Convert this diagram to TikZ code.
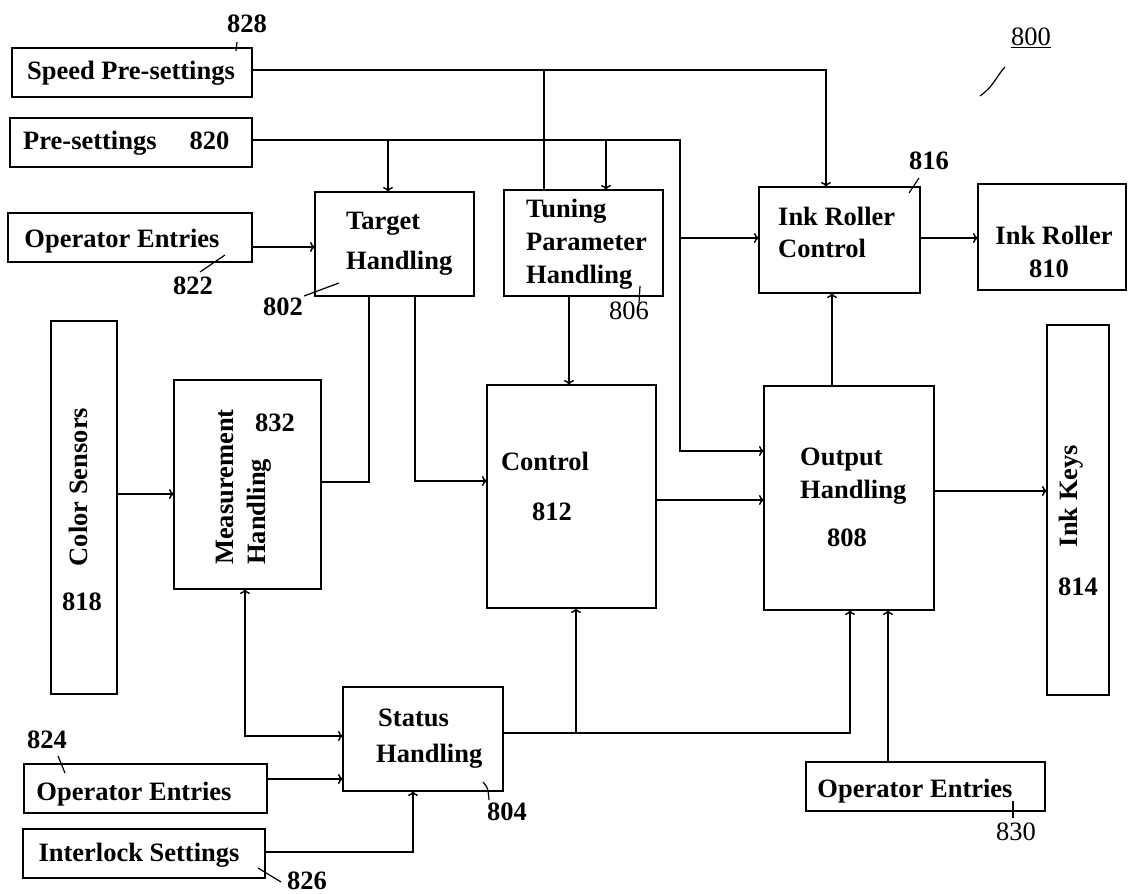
\documentclass[tikz,border=0pt]{standalone}
\usepackage{fontspec}
\setmainfont{Liberation Serif}
\usetikzlibrary{arrows.meta}
\tikzset{
  box/.style={draw=black, line width=1.5pt, inner sep=0pt, outer sep=0pt},
  txtz/.style={inner sep=0pt, anchor=mid, font=\fontsize{26.5}{30}\selectfont\bfseries},
  txt/.style={txtz, yshift=-5pt},
  rtxt/.style={inner sep=0pt, anchor=mid, yshift=-5pt, font=\fontsize{26.5}{30}\selectfont},
  wire/.style={line width=1.5pt},
  arr/.style={wire, -{To[length=5pt,width=10pt]}},
  barr/.style={wire, {To[length=5pt,width=10pt]}-{To[length=5pt,width=10pt]}},
  lead/.style={line width=1.2pt},
}
\begin{document}
\begin{tikzpicture}[x=1pt,y=-1pt]
\useasboundingbox (0,0) rectangle (1128,894);
\fill[white] (0,0) rectangle (1128,894);

% boxes
\node[box, minimum width=240pt, minimum height=49pt] (spd) at (132,72.5) {};
\node[box, minimum width=242pt, minimum height=49pt] (pre) at (131,142.5) {};
\node[box, minimum width=244pt, minimum height=49pt] (op1) at (130,237.5) {};
\node[box, minimum width=159pt, minimum height=104pt] (tgt) at (394.5,244) {};
\node[box, minimum width=159pt, minimum height=106pt] (tun) at (583.5,243) {};
\node[box, minimum width=161pt, minimum height=106pt] (irc) at (839.5,240) {};
\node[box, minimum width=148pt, minimum height=106pt] (ir) at (1052,237) {};
\node[box, minimum width=66pt, minimum height=373pt] (cs) at (84,507.5) {};
\node[box, minimum width=147pt, minimum height=209pt] (meas) at (247.5,484.5) {};
\node[box, minimum width=169pt, minimum height=223pt] (ctl) at (571.5,496.5) {};
\node[box, minimum width=170pt, minimum height=224pt] (out) at (849,498) {};
\node[box, minimum width=62pt, minimum height=370pt] (ik) at (1078,510) {};
\node[box, minimum width=160pt, minimum height=104pt] (stat) at (423,739) {};
\node[box, minimum width=243pt, minimum height=49pt] (op2) at (145.5,788.5) {};
\node[box, minimum width=242pt, minimum height=49pt] (ilk) at (144,853.5) {};
\node[box, minimum width=239pt, minimum height=49pt] (op3) at (925.5,786.5) {};

% texts
\node[txt] (tspd) at (131,72) {Speed Pre-settings};
\node[txt, anchor=mid west] (tpre) at (23,142) {Pre-settings\hspace{33pt}820};
\node[txt] (top1) at (122,240) {Operator Entries};
\node[txt, anchor=mid west] (ttgt1) at (346,222) {Target};
\node[txt, anchor=mid west] (ttgt2) at (346,262) {Handling};
\node[txt, anchor=mid west] (ttun1) at (526,210) {Tuning};
\node[txt, anchor=mid west] (ttun2) at (526,243) {Parameter};
\node[txt, anchor=mid west] (ttun3) at (526,276) {Handling};
\node[txt, anchor=mid west] (tirc1) at (778,218) {Ink Roller};
\node[txt, anchor=mid west] (tirc2) at (778,250) {Control};
\node[txt] (tir1) at (1054,237) {Ink Roller};
\node[txt] (tir2) at (1049,270) {810};
\node[txtz, rotate=90] (tcs) at (85,487) {Color Sensors};
\node[txt] (t818) at (82,603) {818};
\node[txtz, rotate=90, anchor=mid west] (tmeas1) at (231,565) {Measurement};
\node[txtz, rotate=90, anchor=mid west] (tmeas2) at (263,565) {Handling};
\node[txt] (t832) at (275,424) {832};
\node[txt] (tctl) at (545,463) {Control};
\node[txt] (t812) at (552,513) {812};
\node[txt, anchor=mid west] (tout1) at (800,458) {Output};
\node[txt, anchor=mid west] (tout2) at (800,491) {Handling};
\node[txt] (t808) at (847,539) {808};
\node[txtz, rotate=90] (tik) at (1075,496) {Ink Keys};
\node[txt] (t814) at (1078,588) {814};
\node[txt, anchor=mid west] (tst1) at (378,719) {Status};
\node[txt, anchor=mid west] (tst2) at (376,755) {Handling};
\node[txt] (top2) at (134,793) {Operator Entries};
\node[txt] (tilk) at (139,854) {Interlock Settings};
\node[txt] (top3) at (915,790) {Operator Entries};

% reference numerals
\node[txt] (l828) at (247,25) {828};
\node[txt] (l822) at (193,287) {822};
\node[txt] (l802) at (283,308) {802};
\node[rtxt] (l806) at (629,312) {806};
\node[txt] (l816) at (929,162) {816};
\node[rtxt] (l800) at (1031,38) {\underline{800}};
\node[txt] (l824) at (47,741) {824};
\node[txt] (l804) at (507,813) {804};
\node[txt] (l826) at (307,882) {826};
\node[rtxt] (l830) at (1016,833) {830};

% leaders
\draw[lead] (237,42) -- (236,51);
\draw[lead] (225,255) -- (200,272);
\draw[lead] (339,283) -- (304,296);
\draw[lead] (640,286) -- (639,303);
\draw[lead] (919,178) -- (909,193);
\draw[lead] (1005,67) .. controls (995,78) and (994,86) .. (980,96);
\draw[lead] (58,756) -- (65,773);
\draw[lead] (483,782) .. controls (488,788) .. (489,800);
\draw[lead] (258,868) -- (281,882);
\draw[lead] (1013,801) -- (1013,818);

% junction coordinates
\coordinate (jspd) at (544,70);
\coordinate (jpre1) at (388,140);
\coordinate (jpre2) at (606,140);
\coordinate (jpre3) at (680,238);
\coordinate (jpreD) at (680,451);
\coordinate (jst) at (576,733);

% connectors
\draw[arr] (spd.east |- 0,70) -| (irc.north -| 826,0);
\draw[wire] (tun.north -| jspd) -- (jspd);
\draw[arr] (pre.east |- 0,140) -| (jpreD) -- (out.west |- jpreD);
\draw[arr] (jpre1) -- (tgt.north -| jpre1);
\draw[arr] (jpre2) -- (tun.north -| jpre2);
\draw[arr] (jpre3) -- (irc.west |- jpre3);
\draw[arr] (op1.east |- 0,247) -- (tgt.west |- 0,247);
\draw[arr] (tun.south -| 569,0) -- (ctl.north -| 569,0);
\draw[arr] (tgt.south -| 415,0) |- (ctl.west |- 0,481);
\draw[wire] (tgt.south -| 369,0) |- (meas.east |- 0,482);
\draw[arr] (cs.east |- 0,494) -- (meas.west |- 0,494);
\draw[barr] (meas.south -| 245,0) |- (stat.west |- 0,736);
\draw[arr] (op2.east |- 0,779) -- (stat.west |- 0,779);
\draw[arr] (ilk.east |- 0,852) -| (stat.south -| 413,0);
\draw[arr] (stat.east |- jst) -| (out.south -| 850,0);
\draw[arr] (jst) -- (ctl.south -| jst);
\draw[arr] (op3.north -| 888,0) -- (out.south -| 888,0);
\draw[arr] (ctl.east |- 0,500) -- (out.west |- 0,500);
\draw[arr] (out.east |- 0,491) -- (ik.west |- 0,491);
\draw[arr] (out.north -| 832,0) -- (irc.south -| 832,0);
\draw[arr] (irc.east |- 0,238) -- (ir.west |- 0,238);
\end{tikzpicture}
\end{document}
